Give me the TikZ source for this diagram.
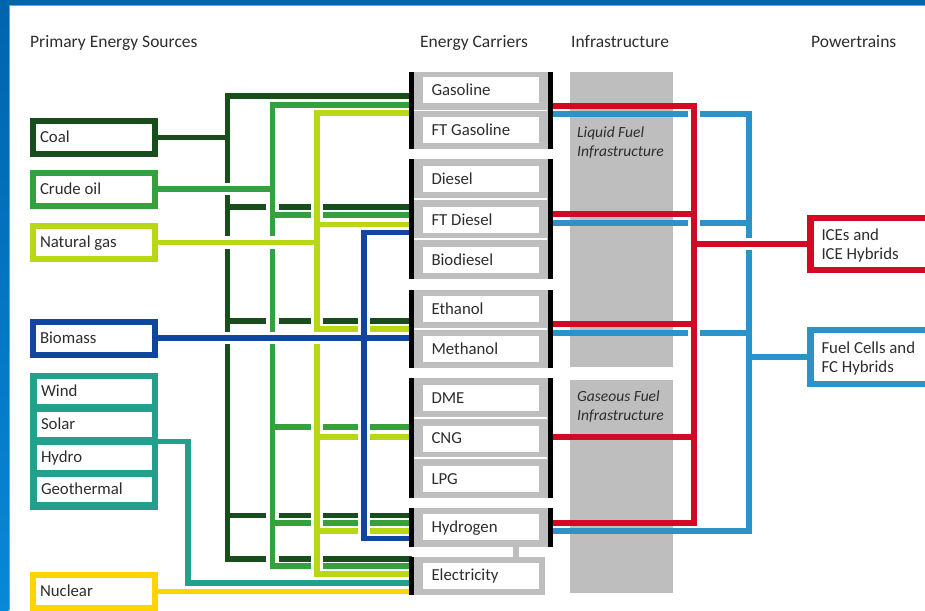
\documentclass[tikz,border=0pt]{standalone}
\usepackage{fontspec}
\setmainfont{Carlito}
\pgfdeclarelayer{back}
\pgfdeclarelayer{lines}
\pgfsetlayers{back,lines,main}
\definecolor{cCoal}{RGB}{24,78,28}
\definecolor{cOil}{RGB}{52,160,62}
\definecolor{cGas}{RGB}{184,216,22}
\definecolor{cBio}{RGB}{18,68,160}
\definecolor{cRen}{RGB}{34,160,140}
\definecolor{cNuc}{RGB}{255,212,0}
\definecolor{cRed}{RGB}{210,10,38}
\definecolor{cFC}{RGB}{44,146,200}
\definecolor{cGray}{RGB}{190,190,190}
\definecolor{cTxt}{RGB}{45,45,45}
\definecolor{cFrame}{RGB}{0,100,172}
\definecolor{cFrameB}{RGB}{8,136,216}
\definecolor{cEdge}{RGB}{40,230,40}
\newcommand\mylbl{\fontsize{16.8pt}{19pt}\selectfont}
\newcommand\myttl{\fontsize{17.5pt}{20pt}\selectfont}
\newcommand\myit{\fontsize{15.5pt}{19pt}\selectfont\itshape}
\begin{document}
\begin{tikzpicture}[x=1pt,y=-1pt,
  conn/.style={line width=5.5pt},
  pconn/.style={line width=6pt},
  halo/.style={draw=white,line width=12.5pt},
  hdr/.style={anchor=west,inner sep=0pt,text=cTxt,font=\myttl,text height=11.3pt,text depth=0pt},
  src/.style={draw,line width=6pt,fill=white,outer sep=0pt,anchor=west,minimum height=33pt,text width=108pt,inner xsep=7pt,inner ysep=0pt,align=flush left,text=cTxt,font=\mylbl,text height=10.8pt,text depth=0pt},
  ren/.style={fill=white,outer sep=0pt,anchor=west,minimum height=25pt,text width=107pt,inner xsep=4pt,inner ysep=0pt,align=flush left,text=cTxt,font=\mylbl,text height=10.8pt,text depth=0pt},
  carrier/.style={fill=white,outer sep=0pt,anchor=west,minimum height=26pt,text width=99pt,inner xsep=8.5pt,inner ysep=0pt,align=flush left,text=cTxt,font=\mylbl,text height=10.8pt,text depth=0pt},
  ptrain/.style={draw,line width=6.5pt,fill=white,outer sep=0pt,anchor=west,text width=120pt,inner xsep=11pt,inner ysep=0pt,align=flush left,text=cTxt,font=\mylbl,text height=11.6pt,text depth=18.8pt},
  carrbar/.style={line width=5.5pt,black},
  infracol/.style={fill=cGray,inner sep=0pt,outer sep=0pt,anchor=north west},
  infralbl/.style={anchor=north west,inner sep=0pt,align=flush left,font=\myit,text=cTxt}
]
\useasboundingbox (0,0) rectangle (925,610);
% frame
\fill[cFrame] (0,0) rectangle (925,5);
\shade[top color=cFrame,bottom color=cFrameB] (0,0) rectangle (8.5,610);
\draw[cEdge,line width=1.3pt] (9.2,610) -- (9.2,5.6) -- (925,5.6);

% headers
\node[hdr] (tPrim) at (30,42) {Primary Energy Sources};
\node[hdr] (tCarr) at (420,42) {Energy Carriers};
\node[hdr] (tInfra) at (571,42) {Infrastructure};
\node[hdr] (tPow) at (811,42) {Powertrains};

% infrastructure columns
\begin{pgfonlayer}{back}
\node[infracol,minimum width=103pt,minimum height=295pt] (liqcol) at (570,72) {};
\node[infracol,minimum width=103pt,minimum height=213pt] (gascol) at (570,380) {};
\node[infralbl] (liqlbl) at (577,126.5) {Liquid Fuel\\Infrastructure};
\node[infralbl] (gaslbl) at (577,391) {Gaseous Fuel\\Infrastructure};
\end{pgfonlayer}

% primary sources
\node[src,draw=cCoal] (coal) at (33,137.5) {Coal};
\node[src,draw=cOil] (crude) at (33,189) {Crude oil};
\node[src,draw=cGas] (natgas) at (33,242.5) {Natural gas};
\node[src,draw=cBio] (biomass) at (33,338) {Biomass};
\node[src,draw=cNuc] (nuclear) at (33,591.5) {Nuclear};
\node[fill=cRen,minimum width=128pt,minimum height=137pt,inner sep=0pt,outer sep=0pt,anchor=north west] (renew) at (30,373) {};
\node[ren] (wind) at (37,391.5) {Wind};
\node[ren] (solar) at (37,424.5) {Solar};
\node[ren] (hydro) at (37,457) {Hydro};
\node[ren] (geo) at (37,489.5) {Geothermal};

% carrier groups
\fill[cGray] (413,72) rectangle (548,149);
\fill[cGray] (413,159) rectangle (548,279);
\fill[cGray] (413,290) rectangle (548,368);
\fill[cGray] (413,378) rectangle (548,498);
\fill[cGray] (413,508) rectangle (548,547);
\fill[cGray] (413,557) rectangle (545,595);
\foreach \yy in {110.5,199,239,329,418,458}
  \draw[white,line width=1.2pt] (414,\yy) -- (547,\yy);

\node[carrier] (gasoline) at (423,90) {Gasoline};
\node[carrier] (ftgasoline) at (423,130) {FT Gasoline};
\node[carrier] (diesel) at (423,179) {Diesel};
\node[carrier] (ftdiesel) at (423,220) {FT Diesel};
\node[carrier] (biodiesel) at (423,260) {Biodiesel};
\node[carrier] (ethanol) at (423,309) {Ethanol};
\node[carrier] (methanol) at (423,349) {Methanol};
\node[carrier] (dme) at (423,398) {DME};
\node[carrier] (cng) at (423,438.5) {CNG};
\node[carrier] (lpg) at (423,479) {LPG};
\node[carrier] (hydrogen) at (423,527) {Hydrogen};
\node[carrier] (electricity) at (423,575.5) {Electricity};

% bars
\draw[carrbar] (411.5,72) -- (411.5,149);
\draw[carrbar] (550.5,72) -- (550.5,149);
\draw[carrbar] (411.5,159) -- (411.5,279);
\draw[carrbar] (550.5,159) -- (550.5,279);
\draw[carrbar] (411.5,290) -- (411.5,368);
\draw[carrbar] (550.5,290) -- (550.5,368);
\draw[carrbar] (411.5,378) -- (411.5,498);
\draw[carrbar] (550.5,378) -- (550.5,498);
\draw[carrbar] (411.5,508) -- (411.5,547);
\draw[carrbar] (550.5,508) -- (550.5,547);
\draw[carrbar] (411.5,557) -- (411.5,595);

% powertrains
\node[ptrain,draw=cRed,minimum height=52pt] (ice) at (810.5,244) {ICEs and\\ICE Hybrids};
\node[ptrain,draw=cFC,minimum height=54pt] (fc) at (810.5,357) {Fuel Cells and\\FC Hybrids};

% coordinates
\coordinate (xC) at (227.5,0);
\coordinate (xO) at (272.7,0);
\coordinate (xG) at (317,0);
\coordinate (xB) at (364,0);
\coordinate (xT) at (188,0);
\coordinate (xR) at (694,0);
\coordinate (xF) at (749,0);
\foreach \n/\yy in {eC1/96,eC2/207,eC3/321,eC4/515.5,eC5/559,
  eO1/105,eO2/215,eO3/427,eO4/523,eO5/566,
  eG1/113,eG2/224.5,eG3/329,eG4/437,eG5/531,eG6/574,
  eB0/338,eB1/232.5,eB2/538.5,eR/583,eN/591.5}
  \coordinate (\n) at (411.5,\yy);
\foreach \n/\yy in {rR1/106,rR2/214,rR3/324,rR4/437,rR5/523,
  rF1/114,rF2/223,rF3/333,rF4/531}
  \coordinate (\n) at (550.5,\yy);

\begin{pgfonlayer}{lines}
% carrier link hydrogen-electricity
\draw[line width=5.5pt,cGray] ([xshift=35pt]hydrogen.south) -- ([xshift=35pt]electricity.north);
% coal
\draw[conn,cCoal] (coal.east) -- (coal.east -| xC);
\draw[conn,cCoal] (eC1) -| (eC5 -| xC) -- (eC5);
\foreach \e in {eC2,eC3,eC4} \draw[conn,cCoal] (\e -| xC) -- (\e);
% crude oil
\path[halo] (crude.east) -- (crude.east -| xO);
\path[halo] (eO1 -| xO) -- (eO5 -| xO);
\draw[conn,cOil] (crude.east) -- (crude.east -| xO);
\draw[conn,cOil] (eO1) -| (eO5 -| xO) -- (eO5);
\foreach \e in {eO2,eO3,eO4} \draw[conn,cOil] (\e -| xO) -- (\e);
% natural gas
\path[halo] (natgas.east) -- (natgas.east -| xG);
\path[halo] (eG1 -| xG) -- (eG6 -| xG);
\draw[conn,cGas] (natgas.east) -- (natgas.east -| xG);
\draw[conn,cGas] (eG1) -| (eG6 -| xG) -- (eG6);
\foreach \e in {eG2,eG3,eG4,eG5} \draw[conn,cGas] (\e -| xG) -- (\e);
% biomass
\path[halo] (biomass.east) -- (eB0);
\path[halo] (eB1 -| xB) -- (eB2 -| xB);
\draw[conn,cBio] (biomass.east) -- (eB0);
\draw[conn,cBio] (eB1) -| (eB2 -| xB) -- (eB2);
\fill[white] (366.5,443) rectangle (409,451);
% renewables
\draw[conn,cRen] (renew.east) -| (eR -| xT) -- (eR);
% nuclear
\draw[conn,cNuc] (nuclear.east) -- (eN);
% fuel cells
\draw[pconn,cFC] (rF1) -| (rF4 -| xF) -- (rF4);
\foreach \e in {rF2,rF3} \draw[pconn,cFC] (\e) -- (\e -| xF);
\draw[pconn,cFC] (fc.west -| xF) -- (fc.west);
% ICE
\path[halo] (rR1 -| xR) -- (rR5 -| xR);
\path[halo] (ice.west -| xR) -- (ice.west);
\draw[pconn,cRed] (rR1) -| (rR5 -| xR) -- (rR5);
\foreach \e in {rR2,rR3,rR4} \draw[pconn,cRed] (\e) -- (\e -| xR);
\draw[pconn,cRed] (ice.west -| xR) -- (ice.west);
\end{pgfonlayer}
\end{tikzpicture}
\end{document}
